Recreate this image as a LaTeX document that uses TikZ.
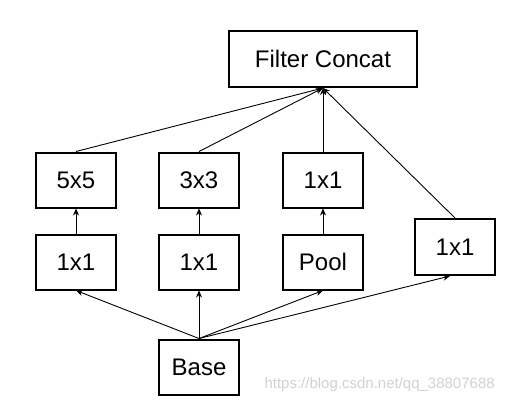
\documentclass[tikz,border=0pt]{standalone}
\usepackage{fontspec}
\setmainfont{Liberation Sans}
\usetikzlibrary{arrows.meta}
\begin{document}
\begin{tikzpicture}[x=1pt,y=-1pt,
  box/.style={draw=black,line width=2pt,minimum width=80pt,minimum height=55pt,inner sep=0pt,font=\fontsize{24}{28}\selectfont},
  conn/.style={line width=0.9pt,-{Stealth[length=7pt,width=6pt]}}]
\useasboundingbox (0,0) rectangle (514,405);
\node[box,minimum width=188pt,minimum height=56pt] (fc) at (323,59) {Filter Concat};
\node[box] (a2) at (76,180) {5x5};
\node[box] (b2) at (199,180) {3x3};
\node[box] (c2) at (323,180) {1x1};
\node[box] (a1) at (76,262) {1x1};
\node[box] (b1) at (199,262) {1x1};
\node[box] (c1) at (323,262) {Pool};
\node[box,minimum height=56pt] (d1) at (455,247) {1x1};
\node[box] (base) at (199,367) {Base};
\node[text=black!18,font=\fontsize{15}{18}\selectfont,anchor=west] (wm) at (261,385) {https://blog.csdn.net/qq\_38807688};
\draw[conn] (a2.north) -- (fc.south);
\draw[conn] (b2.north) -- (fc.south);
\draw[conn] (c2.north) -- (fc.south);
\draw[conn] (d1.north) -- (fc.south);
\draw[conn] (a1.north) -- (a2.south);
\draw[conn] (b1.north) -- (b2.south);
\draw[conn] (c1.north) -- (c2.south);
\draw[conn] (base.north) -- (a1.south);
\draw[conn] (base.north) -- (b1.south);
\draw[conn] (base.north) -- (c1.south);
\draw[conn] (base.north) -- ([xshift=-5pt]d1.south);
\end{tikzpicture}
\end{document}
